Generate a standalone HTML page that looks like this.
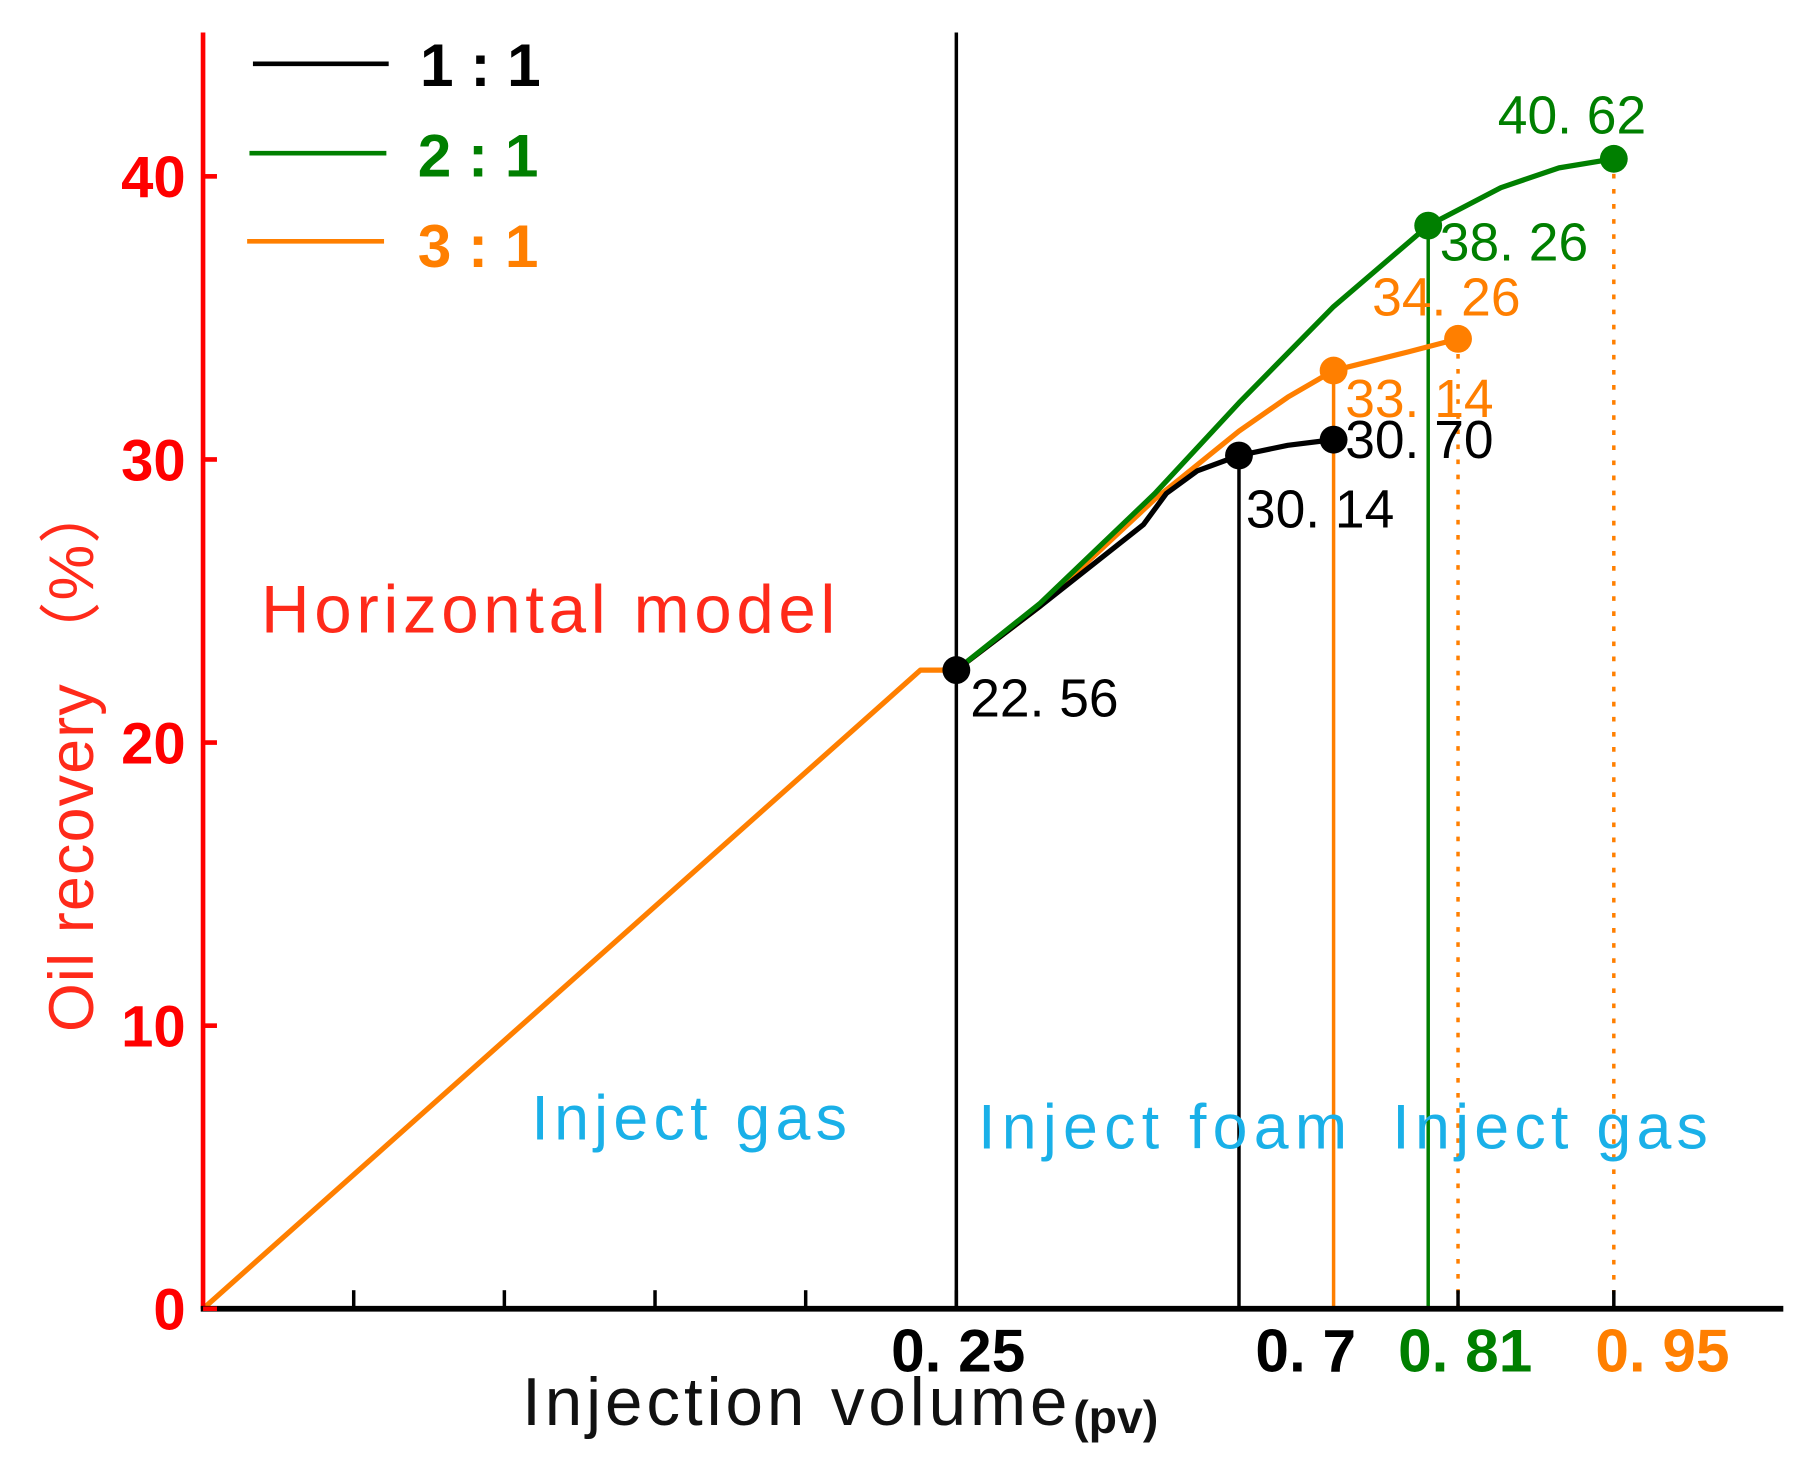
<!DOCTYPE html>
<html><head><meta charset="utf-8"><style>
html,body{margin:0;padding:0;background:#fff;}
svg{display:block;font-family:"Liberation Sans",sans-serif;}
</style></head><body>
<svg id="chart" width="1810" height="1477" viewBox="0 0 1560 1273">
<g id="guides"></g>
<g id="series"></g>
<g id="axes">
  <line x1="175" y1="28" x2="175" y2="1128" stroke="#ff0000" stroke-width="4"/>
  <line x1="173" y1="1128" x2="1537" y2="1128" stroke="#000" stroke-width="5"/>
</g>
<g id="yticks"></g>
<g id="xticks"></g>
<g id="labels"></g>
<g font-weight="bold" font-size="52">
  <line x1="218" y1="55" x2="335" y2="55" stroke="#000" stroke-width="4"/>
  <text x="362" y="74" fill="#000">1 : 1</text>
  <line x1="215" y1="132" x2="333" y2="132" stroke="#007f00" stroke-width="4"/>
  <text x="360" y="152" fill="#007f00">2 : 1</text>
  <line x1="213" y1="208" x2="331" y2="208" stroke="#ff7f00" stroke-width="4"/>
  <text x="360" y="230" fill="#ff7f00">3 : 1</text>
</g>
<text x="225" y="545" font-size="58" fill="#ff2a1a" textLength="495">Horizontal model</text>
<g font-size="54" fill="#1ab0e8">
  <text x="458" y="982" textLength="272">Inject gas</text>
  <text x="843" y="990" textLength="318">Inject foam</text>
  <text x="1200" y="990" textLength="272">Inject gas</text>
</g>
<text transform="translate(80,652) rotate(-90)" text-anchor="middle" font-size="54" fill="#ff2a1a" textLength="475">Oil recovery （%）</text>
<text x="450" y="1228" font-size="58" fill="#111" textLength="470">Injection volume</text>
<text x="925" y="1235" font-size="40" font-weight="bold" fill="#111">(pv)</text>
<g font-size="52" font-weight="bold">
  <text x="768" y="1182" fill="#000">0. 25</text>
  <text x="1082" y="1182" fill="#000">0. 7</text>
  <text x="1205" y="1182" fill="#007f00">0. 81</text>
  <text x="1375" y="1182" fill="#ff7f00">0. 95</text>
</g>
</svg>
<script>
const yTicks = [0, 10, 20, 30, 40];
const xTickPos = [0.05, 0.10, 0.15, 0.20, 0.25, 0.4165, 0.4682];
const xBlack = [0.25, 0.2776, 0.3121, 0.3197, 0.3300, 0.3438, 0.3600, 0.3752];
const yBlack = [22.56, 24.8, 27.7, 28.8, 29.6, 30.14, 30.5, 30.70];
const xGreen = [0.25, 0.2776, 0.3159, 0.3438, 0.3752, 0.4066, 0.4307, 0.4500, 0.4682];
const yGreen = [22.56, 24.9, 28.8, 32.0, 35.4, 38.26, 39.6, 40.3, 40.62];
const xOrange = [0, 0.2381, 0.25, 0.2776, 0.3159, 0.3438, 0.3600, 0.3752, 0.4000, 0.4165];
const yOrange = [0, 22.56, 22.56, 24.8, 28.6, 31.0, 32.2, 33.14, 33.8, 34.26];
const markX = [[0.25,0.3438,0.3752],[0.4066,0.4682],[0.3752,0.4165]];
const markY = [[22.56,30.14,30.70],[38.26,40.62],[33.14,34.26]];
const markText = [["22. 56","30. 14","30. 70"],["38. 26","40. 62"],["33. 14","34. 26"]];
const NS = "http://www.w3.org/2000/svg";
const X = v => 175 + v * 2597;
const Y = v => 1128 - v * 24.4;
function mk(tag, parent, attrs){const e=document.createElementNS(NS,tag);for(const k in attrs)e.setAttribute(k,attrs[k]);parent.appendChild(e);return e;}
const colors=["#000","#007f00","#ff7f00"];
const yt=document.getElementById("yticks");
yTicks.forEach(v=>{
  const l=mk("line",yt,{x1:175,x2:187,y1:Y(v),y2:Y(v),stroke:"#ff0000","stroke-width":4});
  
  
  const t=mk("text",yt,{x:160,y:Y(v)+18,"text-anchor":"end","font-size":50,"font-weight":"bold",fill:"#ff0000"});
  t.textContent=v;
  
  
});
const xt=document.getElementById("xticks");
xTickPos.forEach(v=>{
  const l=mk("line",xt,{x1:X(v),x2:X(v),y1:1128,y2:1112,stroke:"#000","stroke-width":3});
  
  
});
const g=document.getElementById("guides");
const guides=[[0.25,45,"#000",""],[0.3438,30.14,"#000",""],[0.3752,33.14,"#ff7f00",""],[0.4066,38.26,"#007f00",""],[0.4165,34.26,"#ff7f00","4 9"],[0.4682,40.62,"#ff7f00","4 9"]];
guides.forEach(d=>{
  const l=mk("line",g,{x1:X(d[0]),x2:X(d[0]),y1:d[1]>=45?28:Y(d[1]),y2:1128,stroke:d[2],"stroke-width":3,"stroke-dasharray":d[3]});
  
  
});
const s=document.getElementById("series");
[[xOrange,yOrange,2,"series-3-1"],[xBlack,yBlack,0,"series-1-1"],[xGreen,yGreen,1,"series-2-1"]].forEach(([xs,ys,c,n])=>{
  const p=mk("polyline",s,{points:xs.map((x,i)=>X(x)+","+Y(ys[i])).join(" "),fill:"none",stroke:colors[c],"stroke-width":4.5,"stroke-linejoin":"round"});
  
  
});
const lb=document.getElementById("labels");
const off=[[[12,40],[6,62],[10,16]],[[10,30],[-100,-22]],[[10,40],[-74,-20]]];
markX.forEach((xs,c)=>xs.forEach((x,i)=>{
  const m=mk("circle",s,{cx:X(x),cy:Y(markY[c][i]),r:12,fill:colors[c]});
  
  
  const t=mk("text",lb,{x:X(x)+off[c][i][0],y:Y(markY[c][i])+off[c][i][1],"font-size":46,fill:colors[c]});
  t.textContent=markText[c][i];
  
  
}));
</script>
</body></html>
